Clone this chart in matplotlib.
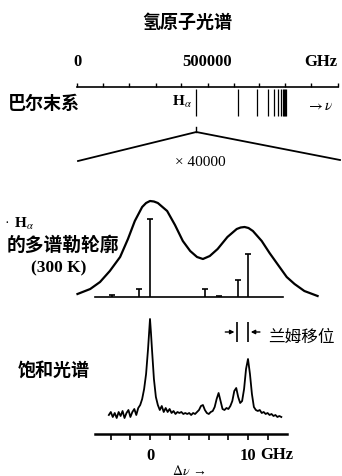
import numpy as np
import matplotlib.pyplot as plt

plt.rcParams['font.family'] = ['Liberation Serif', 'Noto Sans CJK SC', 'DejaVu Sans']
plt.rcParams['mathtext.fontset'] = 'stix'
cjk = ['Noto Sans CJK SC', 'DejaVu Sans']

# Balmer series line frequencies (GHz)
balmer_ghz = [456900, 616800, 690900, 731100, 755300, 771100, 781800,
              789600, 795300, 799600, 803000]
top_ticks = np.arange(0, 1000001, 100000)
top_labels = ['0', '', '', '', '', '500000', '', '', '', '', '']

# H-alpha Doppler profile at 300 K (offset in GHz, relative height)
dop_x = [-7.4, -6.1, -5.1, -4.1, -3.05, -2.25, -1.55, -0.8, -0.4, 0.0, 0.4, 0.8,
         1.75, 2.55, 3.35, 4.1, 4.8, 5.4, 6.1, 6.9, 7.9, 8.85, 9.25, 9.65, 10.05,
         10.5, 11.4, 12.2, 13.0, 13.95, 14.75, 15.75, 17.1]
dop_y = [3, 8, 15, 26, 40, 58, 76, 90, 94, 96, 95.5, 94,
         86, 72, 56, 46, 40, 38, 41, 48, 60, 68, 69.5, 70, 69,
         66, 56, 44, 33, 20, 13, 6, 1]

# fine-structure components
comp_x = [-3.9, -1.1, 0.0, 5.6, 7.0, 9.0, 10.0]
comp_y = [2, 8, 78, 8, 1.5, 17, 43]

# saturation spectrum trace
sat_x = [-4.2, -4.0, -3.8, -3.6, -3.4, -3.2, -3.0, -2.8, -2.6, -2.4, -2.2, -2.0,
         -1.8, -1.6, -1.4, -1.2, -1.0, -0.8, -0.6, -0.4, -0.2, -0.1, 0.0, 0.1,
         0.2, 0.4, 0.6, 0.8, 1.0, 1.2, 1.4, 1.6, 1.8, 2.0, 2.2, 2.4, 2.6, 2.8,
         3.0, 3.2, 3.4, 3.6, 3.8, 4.0, 4.2, 4.4, 4.6, 4.8, 5.0, 5.2, 5.4, 5.6,
         5.8, 6.0, 6.2, 6.4, 6.6, 6.8, 7.0, 7.2, 7.4, 7.6, 7.8, 8.0, 8.2, 8.4,
         8.6, 8.8, 9.0, 9.2, 9.4, 9.6, 9.8, 10.0, 10.2, 10.4, 10.6, 10.8, 11.0,
         11.2, 11.4, 11.6, 11.8, 12.0, 12.2, 12.4, 12.6, 12.8, 13.0, 13.2, 13.4]
sat_y = [4, 7, 2, 6, 1, 7, 3, 8, 1, 6, 9, 2,
         7, 10, 4, 11, 14, 20, 30, 45, 70, 85, 100, 86,
         70, 40, 22, 14, 9, 13, 7, 11, 7, 10, 6, 8, 5, 7,
         6, 7, 5, 6, 5, 6, 4, 6, 5, 7, 9, 13, 14, 9,
         6, 5, 7, 8, 12, 20, 26, 18, 10, 9, 11, 10, 13, 18,
         28, 31, 22, 16, 18, 30, 50, 60, 45, 25, 12, 9, 8,
         9, 6, 7, 5, 6, 4, 5, 3, 4, 2, 3, 2]

lamb_x = [8.9, 10.0]
bottom_ticks = np.arange(-4, 13, 2)
bottom_labels = ['', '', '0', '', '', '', '', '10', '']

W, H = 342, 477
fig = plt.figure(figsize=(3.42, 4.77), dpi=100)


def box(y0, y1):
    return [0, 1 - y1 / H, 1, (y1 - y0) / H]


# overlay in pixel units for labels and the zoom lines
ov = fig.add_axes([0, 0, 1, 1])
ov.set_xlim(0, W)
ov.set_ylim(H, 0)
ov.axis('off')

# ---- top: Balmer series ----
ax1 = fig.add_axes(box(50, 125))
ax1.patch.set_visible(False)
ax1.set_xlim(-77.5 / 26 * 1e5, (W - 77.5) / 26 * 1e5)
ax1.set_ylim(125, 50)
for s in ['left', 'right', 'bottom']:
    ax1.spines[s].set_visible(False)
ax1.spines['top'].set_position(('data', 88))
ax1.spines['top'].set_bounds(0, 1e6)
ax1.spines['top'].set_linewidth(1.2)
ax1.xaxis.tick_top()
ax1.set_xticks(top_ticks)
ax1.set_xticklabels(top_labels, fontsize=12, fontweight='bold')
ax1.tick_params(axis='x', direction='out', length=3, width=1, pad=10)
ax1.set_yticks([])
ax1.vlines(balmer_ghz, 90, 117, color='k', lw=0.9)
ax1.text(1e6, 70, 'GHz', ha='right', va='bottom', fontsize=12, fontweight='bold')

ov.text(187, 22, '氢原子光谱', family=cjk, fontsize=13, fontweight='bold',
        ha='center', va='center')
ov.text(8, 103, '巴尔末系', family=cjk, fontsize=13, fontweight='bold',
        ha='left', va='center')
ov.text(182, 102, r'H$_\alpha$', fontsize=11, fontweight='bold', ha='center', va='center')
ov.text(306, 107, r'$\rightarrow\nu$', fontsize=11, ha='left', va='center')

# zoom lines
apex = ov.transData.inverted().transform(ax1.transData.transform((balmer_ghz[0], 133)))
ov.plot([78, apex[0], 340], [162, apex[1], 161], color='k', lw=1.3)
ov.plot([apex[0], apex[0]], [apex[1] - 5, apex[1]], color='k', lw=1)
ov.text(200, 163, '× 40000', fontsize=11, ha='center', va='center')

# ---- middle: Doppler profile ----
ax2 = fig.add_axes(box(185, 305))
ax2.patch.set_visible(False)
ax2.set_xlim(-150 / 9.8, 192 / 9.8)
ax2.set_ylim(-7, 113)
ax2.axis('off')
ax2.plot(dop_x, dop_y, color='k', lw=1.6)
ax2.plot([-5.6, 13.6], [0, 0], color='k', lw=1.2)
ax2.vlines(comp_x, 0, comp_y, color='k', lw=1.2)
ax2.plot(comp_x, comp_y, '_', color='k', ms=5, mew=1.2)

ov.text(5, 224, '·', fontsize=10, ha='left', va='center')
ov.text(14, 224, r'H$_\alpha$', fontsize=11, fontweight='bold', ha='left', va='center')
ov.text(7, 245, '的多谱勒轮廓', family=cjk, fontsize=13.5, fontweight='bold',
        ha='left', va='center')
ov.text(31, 268, '(300 K)', fontsize=12.5, fontweight='bold', ha='left', va='center')

# ---- bottom: saturation spectrum ----
ax3 = fig.add_axes(box(312, 448))
ax3.patch.set_visible(False)
ax3.set_xlim(-150 / 9.8, 192 / 9.8)
ax3.set_ylim(-28, 108)
for s in ['left', 'right', 'top']:
    ax3.spines[s].set_visible(False)
ax3.spines['bottom'].set_position(('data', -15))
ax3.spines['bottom'].set_bounds(-5.6, 14.0)
ax3.spines['bottom'].set_linewidth(1.8)
ax3.set_xticks(bottom_ticks)
ax3.set_xticklabels(bottom_labels, fontsize=12, fontweight='bold')
ax3.tick_params(axis='x', direction='out', length=4, width=1.2, pad=5)
ax3.set_yticks([])
ax3.plot(sat_x, sat_y, color='k', lw=1.3)
ax3.text(11.3, -35, 'GHz', fontsize=12, fontweight='bold', ha='left', va='center')

ax3.vlines(lamb_x, 77, 97, color='k', lw=1.2)
ax3.annotate('', xy=(lamb_x[0], 87), xytext=(lamb_x[0] - 1.5, 87),
             arrowprops=dict(arrowstyle='-|>', color='k', lw=1, mutation_scale=6))
ax3.annotate('', xy=(lamb_x[1], 87), xytext=(lamb_x[1] + 1.5, 87),
             arrowprops=dict(arrowstyle='-|>', color='k', lw=1, mutation_scale=6))
ov.text(268, 337, '兰姆移位', family=cjk, fontsize=12, ha='left', va='center')
ov.text(18, 370, '饱和光谱', family=cjk, fontsize=13, fontweight='bold',
        ha='left', va='center')
ov.text(172, 471, r'$\Delta\nu$ →', fontsize=10, ha='left', va='center')

fig.savefig('out.png', dpi=100)
